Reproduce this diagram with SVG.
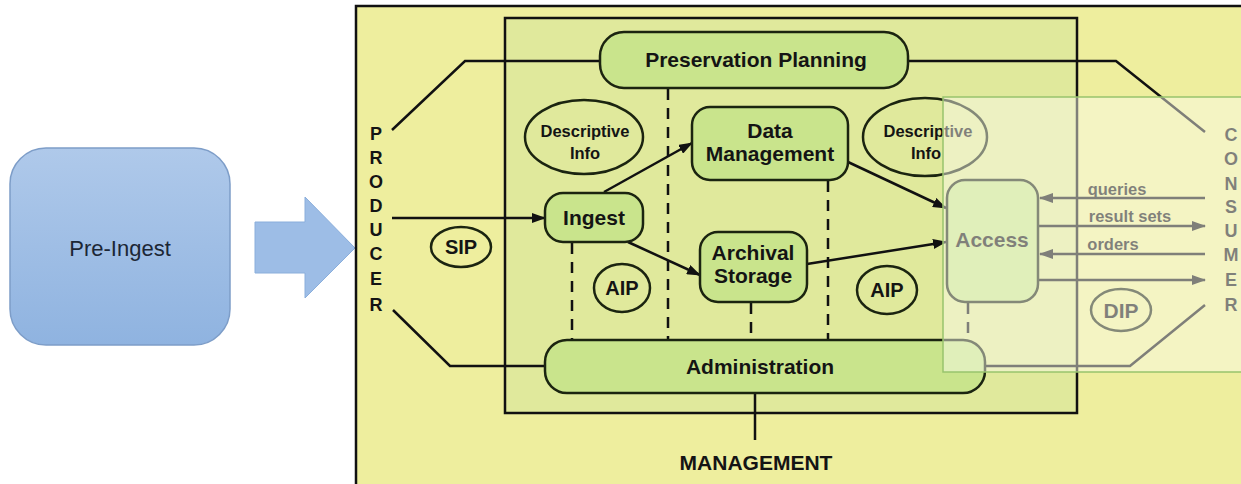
<svg xmlns="http://www.w3.org/2000/svg" width="1241" height="484" viewBox="0 0 1241 484">
<defs>
<linearGradient id="blueGrad" x1="0" y1="0" x2="0" y2="1">
<stop offset="0" stop-color="#afc9ea"/>
<stop offset="1" stop-color="#8fb3e0"/>
</linearGradient>
<marker id="ah" markerWidth="14" markerHeight="10" refX="13" refY="5" orient="auto" markerUnits="userSpaceOnUse">
<path d="M0,0 L14,5 L0,10 Z" fill="#111"/>
</marker>
</defs>
<style>
.t{font-family:"Liberation Sans",Arial,sans-serif;font-weight:bold;fill:#141414;text-anchor:middle}
.node{fill:#c9e48c;stroke:#1b2410;stroke-width:2.5}
.oval{fill:none;stroke:#1b2410;stroke-width:2.5}
.ln{fill:none;stroke:#111;stroke-width:2.5}
.dash{fill:none;stroke:#111;stroke-width:2.5;stroke-dasharray:11 8}
.arr{fill:none;stroke:#111;stroke-width:2.5;marker-end:url(#ah)}
</style>

<rect x="0" y="0" width="1241" height="484" fill="#ffffff"/>

<g id="pre-ingest">
<rect x="10" y="148" width="220" height="197" rx="36" fill="url(#blueGrad)" stroke="#7d9dc8" stroke-width="1.5"/>
<text x="120" y="256" font-family="Liberation Sans, Arial, sans-serif" font-size="22" fill="#1c2735" text-anchor="middle">Pre-Ingest</text>
</g>

<g id="big-arrow">
<path d="M255,222 L305,222 L305,197 L355,248 L305,298 L305,273 L255,273 Z" fill="#9dbde6" stroke="#8aaedb" stroke-width="1"/>
</g>

<g id="oais-frame">
<rect x="356" y="6" width="890" height="482" fill="#eeee9e" stroke="#111" stroke-width="2.5"/>
<rect x="505" y="18" width="572" height="395" fill="#e0e99c" stroke="#111" stroke-width="2.5"/>
</g>

<g id="connectors">
<polyline class="ln" points="392,130 465,61 600,61"/>
<polyline class="ln" points="908,61 1116,61 1205,132"/>
<polyline class="ln" points="393,310 450,366 545,366"/>
<polyline class="ln" points="985,366 1130,366 1205,305"/>
<line class="ln" x1="755" y1="393" x2="755" y2="440"/>
<line class="arr" x1="392" y1="218" x2="545" y2="218"/>
<line class="arr" x1="604" y1="192" x2="692" y2="143"/>
<line class="arr" x1="628" y1="242" x2="700" y2="275"/>
<line class="arr" x1="848" y1="162" x2="946" y2="208"/>
<line class="arr" x1="807" y1="264" x2="946" y2="242"/>
<line class="dash" x1="572" y1="243" x2="572" y2="340"/>
<line class="dash" x1="668" y1="89" x2="668" y2="340"/>
<line class="dash" x1="751" y1="303" x2="751" y2="340"/>
<line class="dash" x1="828" y1="181" x2="828" y2="340"/>
<line class="dash" x1="968" y1="303" x2="968" y2="340"/>
<line class="arr" x1="1205" y1="198" x2="1040" y2="198"/>
<line class="arr" x1="1038" y1="226" x2="1205" y2="226"/>
<line class="arr" x1="1205" y1="254" x2="1040" y2="254"/>
<line class="arr" x1="1038" y1="280" x2="1205" y2="280"/>
</g>

<g id="producer">
<text class="t" font-size="18"><tspan x="376" y="140">P</tspan><tspan x="376" y="164">R</tspan><tspan x="376" y="188">O</tspan><tspan x="376" y="212">D</tspan><tspan x="376" y="236">U</tspan><tspan x="376" y="260">C</tspan><tspan x="376" y="285">E</tspan><tspan x="376" y="311">R</tspan></text>
</g>

<g id="consumer">
<text class="t" font-size="18"><tspan x="1231" y="141">C</tspan><tspan x="1231" y="165">O</tspan><tspan x="1231" y="190">N</tspan><tspan x="1231" y="213">S</tspan><tspan x="1231" y="237">U</tspan><tspan x="1231" y="261">M</tspan><tspan x="1231" y="286">E</tspan><tspan x="1231" y="311">R</tspan></text>
</g>

<g id="preservation-planning">
<rect class="node" x="600" y="32" width="308" height="56" rx="24"/>
<text class="t" x="756" y="67" font-size="21">Preservation Planning</text>
</g>

<g id="descriptive-info-1">
<ellipse class="oval" cx="584" cy="137" rx="59" ry="37"/>
<text class="t" x="585" y="137" font-size="16.5">Descriptive</text>
<text class="t" x="585" y="159" font-size="16.5">Info</text>
</g>

<g id="descriptive-info-2">
<ellipse class="oval" cx="925" cy="137" rx="62" ry="39"/>
<text class="t" x="928" y="137" font-size="16.5">Descriptive</text>
<text class="t" x="926" y="159" font-size="16.5">Info</text>
</g>

<g id="data-management">
<rect class="node" x="692" y="107" width="156" height="73" rx="18"/>
<text class="t" x="770" y="138" font-size="21">Data</text>
<text class="t" x="770" y="161" font-size="21">Management</text>
</g>

<g id="ingest">
<rect class="node" x="545" y="193" width="98" height="49" rx="18"/>
<text class="t" x="594" y="225" font-size="21">Ingest</text>
</g>

<g id="archival-storage">
<rect class="node" x="700" y="232" width="107" height="70" rx="18"/>
<text class="t" x="753" y="260" font-size="21">Archival</text>
<text class="t" x="753" y="283" font-size="21">Storage</text>
</g>

<g id="access">
<rect class="node" x="947" y="180" width="91" height="122" rx="18"/>
<text class="t" x="992" y="247" font-size="21">Access</text>
</g>

<g id="administration">
<rect class="node" x="545" y="340" width="440" height="53" rx="22"/>
<text class="t" x="760" y="374" font-size="21">Administration</text>
</g>

<g id="sip">
<ellipse class="oval" cx="461" cy="247" rx="30" ry="20"/>
<text class="t" x="461" y="254" font-size="20">SIP</text>
</g>

<g id="aip-1">
<ellipse class="oval" cx="622" cy="288" rx="28" ry="24"/>
<text class="t" x="622" y="295" font-size="20">AIP</text>
</g>

<g id="aip-2">
<ellipse class="oval" cx="887" cy="290" rx="30" ry="24"/>
<text class="t" x="887" y="297" font-size="20">AIP</text>
</g>

<g id="dip">
<ellipse class="oval" cx="1121" cy="310" rx="30" ry="21"/>
<text class="t" x="1121" y="318" font-size="21">DIP</text>
</g>

<g id="flow-labels">
<text class="t" x="1117" y="195" font-size="16.5">queries</text>
<text class="t" x="1130" y="222" font-size="16.5">result sets</text>
<text class="t" x="1113" y="250" font-size="16.5">orders</text>
</g>

<g id="management">
<text class="t" x="756" y="470" font-size="21">MANAGEMENT</text>
</g>

<g id="overlay">
<rect x="943" y="97" width="302" height="275" fill="#fbfbee" fill-opacity="0.47" stroke="#98c46c" stroke-width="1.5"/>
</g>
</svg>
